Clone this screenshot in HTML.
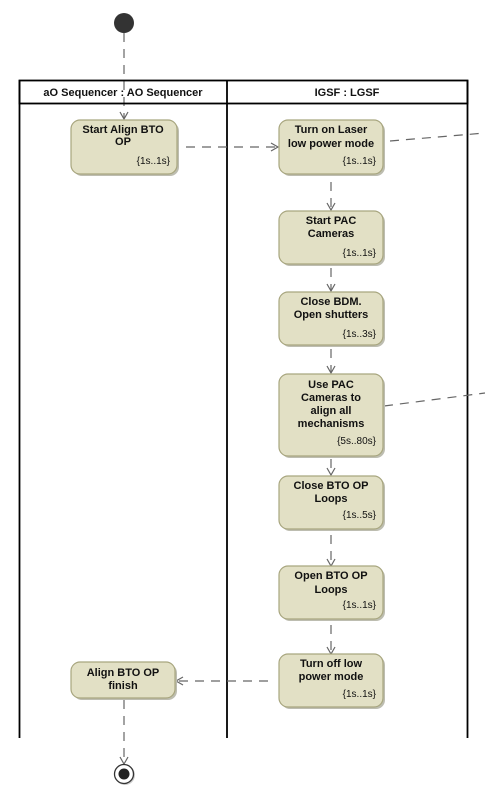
<!DOCTYPE html>
<html><head><meta charset="utf-8"><style>
html,body{margin:0;padding:0;background:#fff;width:485px;height:801px;overflow:hidden}
svg{display:block}
text{font-family:"Liberation Sans",Arial,sans-serif;fill:#111}
.t{font-size:11px;font-weight:bold;text-anchor:middle}
.d{font-size:10px;text-anchor:end}
.n{fill:#e2e0c5;stroke:#a8a67f;stroke-width:1.2}
.sh{fill:#bdbdb0}
.dl{stroke:#666;stroke-width:1.2;stroke-dasharray:9,7;fill:none}
.ah{stroke:#666;stroke-width:1.2;fill:none}
</style></head><body>
<svg width="485" height="801" viewBox="0 0 485 801">
<!-- start -->
<circle cx="124" cy="23" r="10" fill="#333"/>
<line class="dl" x1="124" y1="33" x2="124" y2="118"/>
<path class="ah" d="M120,112 L124,119 L128,112"/>
<!-- frame -->
<rect x="19.5" y="80.5" width="448" height="23" fill="none" stroke="#000" stroke-width="1.8"/>
<line x1="19.5" y1="80" x2="19.5" y2="738" stroke="#000" stroke-width="1.8"/>
<line x1="227" y1="80" x2="227" y2="738" stroke="#000" stroke-width="1.8"/>
<line x1="467.5" y1="80" x2="467.5" y2="738" stroke="#000" stroke-width="1.8"/>
<text x="123" y="96" style="font-size:11px;font-weight:bold" text-anchor="middle">aO Sequencer : AO Sequencer</text>
<text x="347" y="96" style="font-size:11px;font-weight:bold" text-anchor="middle">IGSF : LGSF</text>

<!-- connectors -->
<line class="dl" x1="186" y1="147" x2="277" y2="147"/>
<path class="ah" d="M271,143 L278,147 L271,151"/>
<line class="dl" x1="390" y1="141" x2="485" y2="133"/>
<line class="dl" x1="331" y1="182" x2="331" y2="209"/>
<path class="ah" d="M327,203 L331,210 L335,203"/>
<line class="dl" x1="331" y1="268" x2="331" y2="290"/>
<path class="ah" d="M327,284 L331,291 L335,284"/>
<line class="dl" x1="331" y1="349" x2="331" y2="372"/>
<path class="ah" d="M327,366 L331,373 L335,366"/>
<line class="dl" x1="384" y1="406" x2="485" y2="393"/>
<line class="dl" x1="331" y1="459" x2="331" y2="474"/>
<path class="ah" d="M327,468 L331,475 L335,468"/>
<line class="dl" x1="331" y1="535" x2="331" y2="565"/>
<path class="ah" d="M327,559 L331,566 L335,559"/>
<line class="dl" x1="331" y1="625" x2="331" y2="653"/>
<path class="ah" d="M327,647 L331,654 L335,647"/>
<line class="dl" x1="268" y1="681" x2="177" y2="681"/>
<path class="ah" d="M183,677 L176,681 L183,685"/>
<line class="dl" x1="124" y1="700" x2="124" y2="763"/>
<path class="ah" d="M120,757 L124,764 L128,757"/>
<!-- final -->
<circle cx="125" cy="775" r="10" fill="#ccc"/>
<circle cx="124" cy="774" r="9.5" fill="#fff" stroke="#333" stroke-width="1.3"/>
<circle cx="124" cy="774" r="5.5" fill="#222"/>

<!-- nodes -->
<g>
<rect class="sh" x="73" y="122" width="106" height="54" rx="9"/>
<rect class="n" x="71" y="120" width="106" height="54" rx="9"/>
<text class="t" x="123" y="133">Start Align BTO</text><text class="t" x="123" y="145">OP</text>
<text class="d" x="170" y="164">{1s..1s}</text>

<rect class="sh" x="281" y="122" width="104" height="54" rx="9"/>
<rect class="n" x="279" y="120" width="104" height="54" rx="9"/>
<text class="t" x="331" y="133">Turn on Laser</text><text class="t" x="331" y="147">low power mode</text>
<text class="d" x="376" y="164">{1s..1s}</text>

<rect class="sh" x="281" y="213" width="104" height="53" rx="9"/>
<rect class="n" x="279" y="211" width="104" height="53" rx="9"/>
<text class="t" x="331" y="224">Start PAC</text><text class="t" x="331" y="237">Cameras</text>
<text class="d" x="376" y="256">{1s..1s}</text>

<rect class="sh" x="281" y="294" width="104" height="53" rx="9"/>
<rect class="n" x="279" y="292" width="104" height="53" rx="9"/>
<text class="t" x="331" y="305">Close BDM.</text><text class="t" x="331" y="318">Open shutters</text>
<text class="d" x="376" y="337">{1s..3s}</text>

<rect class="sh" x="281" y="376" width="104" height="82" rx="9"/>
<rect class="n" x="279" y="374" width="104" height="82" rx="9"/>
<text class="t" x="331" y="388">Use PAC</text><text class="t" x="331" y="401">Cameras to</text>
<text class="t" x="331" y="414">align all</text><text class="t" x="331" y="427">mechanisms</text>
<text class="d" x="376" y="444">{5s..80s}</text>

<rect class="sh" x="281" y="478" width="104" height="53" rx="9"/>
<rect class="n" x="279" y="476" width="104" height="53" rx="9"/>
<text class="t" x="331" y="489">Close BTO OP</text><text class="t" x="331" y="502">Loops</text>
<text class="d" x="376" y="518">{1s..5s}</text>

<rect class="sh" x="281" y="568" width="104" height="53" rx="9"/>
<rect class="n" x="279" y="566" width="104" height="53" rx="9"/>
<text class="t" x="331" y="579">Open BTO OP</text><text class="t" x="331" y="593">Loops</text>
<text class="d" x="376" y="608">{1s..1s}</text>

<rect class="sh" x="281" y="656" width="104" height="53" rx="9"/>
<rect class="n" x="279" y="654" width="104" height="53" rx="9"/>
<text class="t" x="331" y="667">Turn off low</text><text class="t" x="331" y="680">power mode</text>
<text class="d" x="376" y="697">{1s..1s}</text>

<rect class="sh" x="73" y="664" width="104" height="36" rx="9"/>
<rect class="n" x="71" y="662" width="104" height="36" rx="9"/>
<text class="t" x="123" y="676">Align BTO OP</text><text class="t" x="123" y="689">finish</text>
</g>
</svg>
</body></html>
